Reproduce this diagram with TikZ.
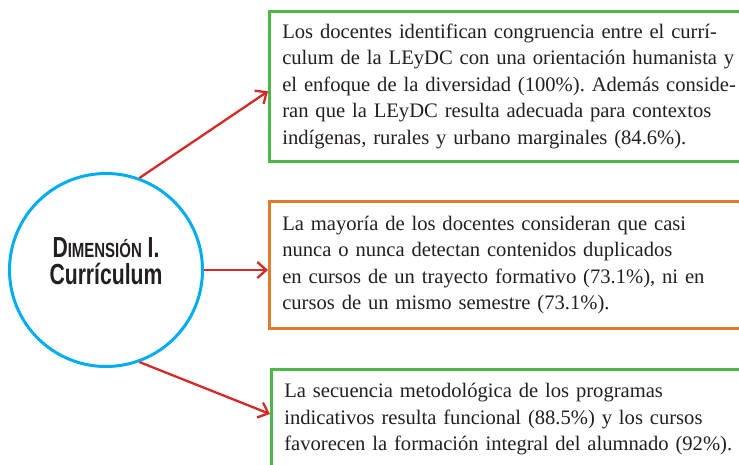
\documentclass[tikz,border=0pt]{standalone}
\usepackage{fontspec}
\setmainfont{Liberation Serif}
\newfontfamily\titlefont{Liberation Sans}
\usetikzlibrary{arrows.meta,calc}
\definecolor{cblue}{HTML}{00AEEF}
\definecolor{cred}{HTML}{D42A27}
\definecolor{cgreen}{HTML}{4DB848}
\definecolor{corange}{HTML}{E07B2A}
\definecolor{ctext}{HTML}{231F20}
\frenchspacing
\tikzset{
  infobox/.style={draw=#1, line width=2.6pt, anchor=north west, align=left,
    text width=520pt, inner xsep=13pt, text=ctext,
    font=\frenchspacing\fontsize{20.6}{26.5}\selectfont},
  conn/.style={draw=cred, line width=2.3pt,
    -{Straight Barb[length=9pt,width=16pt,line width=2.3pt]}},
}
\begin{document}
\begin{tikzpicture}[x=1pt,y=-1pt]
\clip (0,0) rectangle (739,465);
\fill[white] (0,0) rectangle (739,465);
\node[draw=cblue, line width=3pt, circle, minimum size=193pt] (c) at (106,270) {};
\node[align=center, text=ctext, inner sep=0pt,
      font=\titlefont\bfseries\fontsize{29}{27}\selectfont] (t) at (106,261)
  {\scalebox{0.73}[1]{D{\fontsize{20.5}{21}\selectfont IMENSIÓN} I.}\\
   \scalebox{0.73}[1]{Currículum}};
\node[infobox=cgreen, minimum height=150pt] (b1) at (268,10)
  {Los docentes identifican congruencia entre el currí-\\
   culum de la LEyDC con una orientación humanista y\\
   el enfoque de la diversidad (100\%). Además conside-\\
   ran que la LEyDC resulta adecuada para contextos\\
   indígenas, rurales y urbano marginales (84.6\%).};
\node[infobox=corange, minimum height=127pt] (b2) at (268,200)
  {La mayoría de los docentes consideran que casi\\
   nunca o nunca detectan contenidos duplicados\\
   en cursos de un trayecto formativo (73.1\%), ni en\\
   cursos de un mismo semestre (73.1\%).};
\node[infobox=cgreen, inner ysep=14pt, text depth=100pt] (b3) at (270,368)
  {La secuencia metodológica de los programas\\
   indicativos resulta funcional (88.5\%) y los cursos\\
   favorecen la formación integral del alumnado (92\%).};
\draw[conn] (c.70) -- ([yshift=-5pt]b1.west);
\draw[conn] (c.east) -- (b2.west |- c.east);
\draw[conn] (c.-70) -- ([yshift=-46pt]b3.north west);
\end{tikzpicture}
\end{document}
